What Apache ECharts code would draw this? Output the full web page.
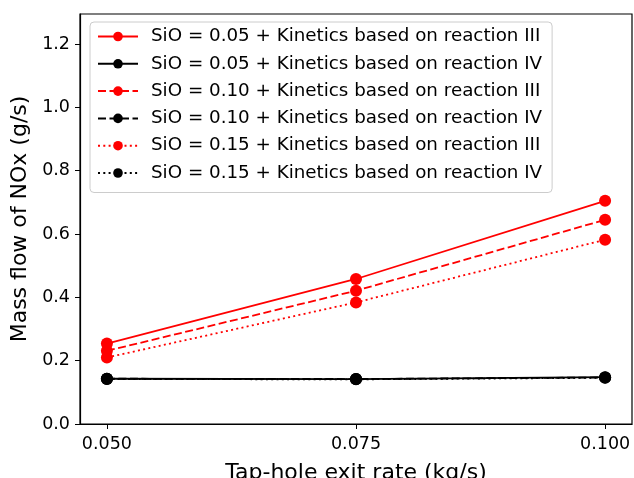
<!DOCTYPE html>
<html>
<head>
<meta charset="utf-8">
<script src="https://cdn.jsdelivr.net/npm/echarts@6/dist/echarts.min.js"></script>
<style>
  html, body { margin: 0; padding: 0; background: #fff; }
  #chart { width: 634px; height: 478px; }
</style>
</head>
<body>
<div id="chart"></div>
<script>
// data
var exitRates = [0.050, 0.075, 0.100];
var xTicks = [0.050, 0.075, 0.100];
var yTicks = [0.0, 0.2, 0.4, 0.6, 0.8, 1.0, 1.2];

var sio05_III = [0.254, 0.458, 0.705];
var sio05_IV  = [0.143, 0.142, 0.148];
var sio10_III = [0.231, 0.421, 0.645];
var sio10_IV  = [0.143, 0.142, 0.147];
var sio15_III = [0.210, 0.384, 0.582];
var sio15_IV  = [0.142, 0.141, 0.146];

var seriesNames = [
    'SiO = 0.05 + Kinetics based on reaction III',
    'SiO = 0.05 + Kinetics based on reaction IV',
    'SiO = 0.10 + Kinetics based on reaction III',
    'SiO = 0.10 + Kinetics based on reaction IV',
    'SiO = 0.15 + Kinetics based on reaction III',
    'SiO = 0.15 + Kinetics based on reaction IV'
];
var seriesValues = [sio05_III, sio05_IV, sio10_III, sio10_IV, sio15_III, sio15_IV];
var seriesColors = ['#ff0000', '#000000', '#ff0000', '#000000', '#ff0000', '#000000'];
var dashSolid = 'solid';
var dashDashed = [8, 3.5];
var dashDotted = [2, 3.3];
var seriesDash = [dashSolid, dashSolid, dashDashed, dashDashed, dashDotted, dashDotted];

var pairs = function (ys) {
    var out = [];
    for (var i = 0; i < exitRates.length; i++) {
        out.push([exitRates[i], ys[i]]);
    }
    return out;
};

var series = [];
for (var i = 0; i < seriesNames.length; i++) {
    series.push({
        name: seriesNames[i],
        type: 'line',
        data: pairs(seriesValues[i]),
        symbol: 'circle',
        symbolSize: 12,
        color: seriesColors[i],
        lineStyle: { width: 1.8, type: seriesDash[i], color: seriesColors[i] },
        itemStyle: { color: seriesColors[i] },
        z: 2 + i,
        animation: false
    });
}

var font = 'DejaVu Sans';
var myChart = echarts.init(document.getElementById('chart'));
var option = {
    backgroundColor: '#fff',
    animation: false,
    grid: {
        left: 80, right: 2, top: 14, bottom: 54,
        outerBoundsMode: 'none',
        containLabel: false,
        show: true, borderColor: '#000', borderWidth: 1.2
    },
    legend: {
        orient: 'vertical',
        left: 90, top: 22,
        padding: [5.5, 10, 10.5, 7],
        itemWidth: 40, itemHeight: 12,
        itemGap: 9.3,
        backgroundColor: '#fff',
        borderColor: '#cccccc', borderWidth: 1, borderRadius: 4,
        textStyle: { fontFamily: font, fontSize: 18.3, lineHeight: 18, color: '#000', padding: [0, 0, 0, 8] },
        data: seriesNames
    },
    xAxis: {
        type: 'value',
        min: 0.0473, max: 0.1027,
        name: 'Tap-hole exit rate (kg/s)',
        nameLocation: 'middle',
        nameGap: 38,
        nameTextStyle: { fontFamily: font, fontSize: 22, color: '#000' },
        splitLine: { show: false },
        axisLine: { show: true, onZero: false, lineStyle: { color: '#000', width: 1.2 } },
        axisTick: { show: true, inside: false, length: 5, customValues: xTicks, lineStyle: { color: '#000' } },
        axisLabel: {
            customValues: xTicks, margin: 11,
            fontFamily: font, fontSize: 17.5, color: '#000',
            formatter: function (v) { return v.toFixed(3); }
        }
    },
    yAxis: {
        type: 'value',
        min: 0, max: 1.295,
        name: 'Mass flow of NOx (g/s)',
        nameLocation: 'middle',
        nameGap: 42,
        nameTextStyle: { fontFamily: font, fontSize: 22, color: '#000' },
        splitLine: { show: false },
        axisLine: { show: true, lineStyle: { color: '#000', width: 1.2 } },
        axisTick: { show: true, inside: false, length: 5, customValues: yTicks, lineStyle: { color: '#000' } },
        axisLabel: {
            customValues: yTicks, margin: 10,
            fontFamily: font, fontSize: 17.5, color: '#000',
            formatter: function (v) { return v.toFixed(1); }
        }
    },
    series: series
};
myChart.setOption(option);
</script>
</body>
</html>
